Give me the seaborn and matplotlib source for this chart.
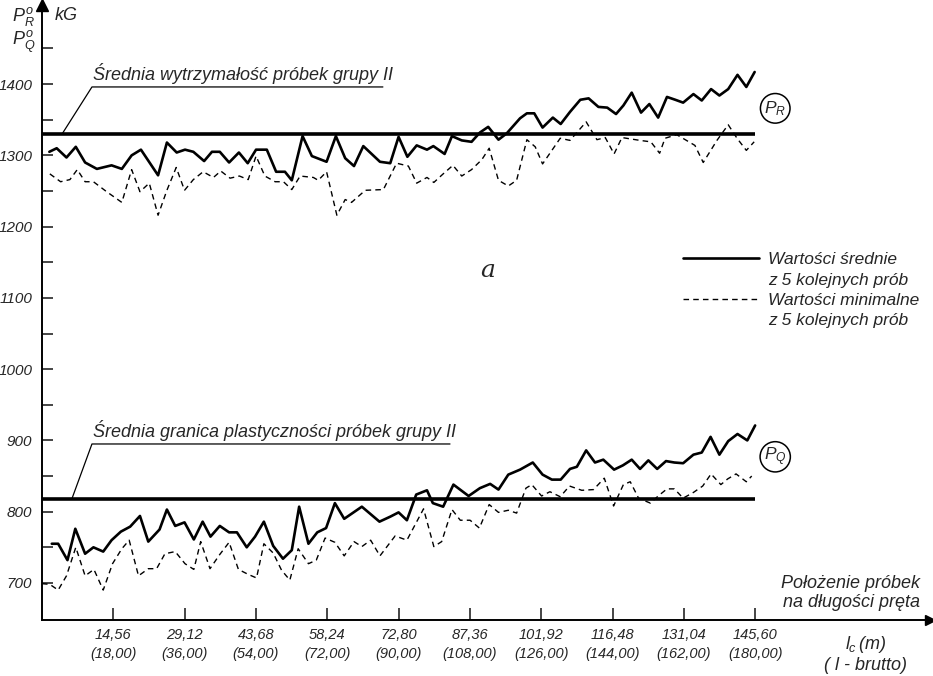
import matplotlib
matplotlib.use("Agg")
import matplotlib.pyplot as plt
from matplotlib import font_manager
from matplotlib.lines import Line2D
import seaborn as sns
import pandas as pd

# ---------------- data ----------------
# P_R : mean of 5 consecutive samples (solid)
r_mean_x = [1.5, 3.0, 5.0, 6.9, 8.8, 11.2, 14.2, 16.3, 18.3, 20.2, 23.7, 25.5, 27.5, 29.2, 30.9,
            33.1, 34.7, 36.3, 38.2, 40.2, 42.0, 43.7, 45.9, 47.8, 49.6, 51.0, 53.2, 55.1, 58.1,
            60.0, 61.9, 63.7, 65.6, 69.0, 71.1, 72.8, 74.6, 76.5, 78.6, 79.9, 82.2, 83.7, 85.7,
            87.7, 89.4, 91.1, 93.2, 94.9, 97.6, 99.0, 100.5, 102.2, 104.3, 105.9, 107.8, 109.9,
            111.6, 113.6, 115.4, 117.2, 118.7, 120.4, 122.3, 124.0, 125.8, 127.6, 129.3, 130.9,
            133.0, 134.7, 136.6, 138.3, 140.1, 142.0, 143.8, 145.5]
r_mean_y = [1305, 1310, 1297, 1312, 1290, 1281, 1286, 1281, 1300, 1308, 1272, 1318, 1304, 1308, 1305,
            1292, 1305, 1305, 1290, 1304, 1289, 1308, 1308, 1277, 1277, 1265, 1327, 1299, 1291,
            1327, 1296, 1285, 1313, 1291, 1289, 1326, 1298, 1314, 1308, 1313, 1302, 1327, 1321,
            1319, 1332, 1340, 1322, 1331, 1352, 1359, 1359, 1339, 1353, 1344, 1361, 1378,
            1380, 1368, 1367, 1358, 1370, 1388, 1360, 1372, 1353, 1382, 1378, 1374,
            1386, 1377, 1393, 1384, 1393, 1413, 1396, 1417]

# P_R : minimum of 5 consecutive samples (dashed)
r_min_x = [1.6, 3.8, 5.7, 7.2, 8.8, 10.5, 13.2, 16.3, 18.3, 20.0, 21.9, 23.7, 25.5, 27.4, 29.1,
           30.9, 32.9, 35.0, 36.5, 38.4, 40.3, 42.1, 43.7, 45.5, 47.6, 49.3, 51.0, 52.7, 55.4,
           56.4, 58.1, 60.2, 61.9, 63.2, 66.0, 69.7, 72.4, 74.8, 76.5, 78.6, 80.0, 81.9, 83.9,
           85.7, 87.7, 89.8, 91.3, 93.2, 95.2, 96.9, 99.0, 100.7, 102.2, 105.8, 107.8, 111.1,
           113.3, 115.0, 116.8, 118.4, 122.1, 124.3, 126.1, 127.2, 129.6, 133.3, 135.0, 137.8,
           140.1, 141.9, 143.8, 145.4]
r_min_y = [1274, 1263, 1266, 1280, 1263, 1263, 1249, 1234, 1280, 1249, 1261, 1216, 1251, 1283, 1251,
           1266, 1277, 1269, 1278, 1268, 1271, 1266, 1299, 1271, 1263, 1263, 1252, 1271, 1269,
           1265, 1277, 1216, 1238, 1234, 1251, 1252, 1289, 1285, 1261, 1269, 1262, 1274, 1286,
           1271, 1280, 1294, 1310, 1265, 1257, 1265, 1322, 1312, 1288, 1324, 1321, 1347,
           1322, 1325, 1302, 1325, 1321, 1319, 1303, 1324, 1329, 1314, 1290, 1321,
           1343, 1324, 1307, 1319]

# P_Q : mean of 5 consecutive samples (solid)
q_mean_x = [2.0, 3.3, 5.2, 6.8, 8.8, 10.5, 12.5, 14.2, 16.1, 18.0, 20.0, 21.7, 24.0, 25.5, 27.2,
            29.1, 31.0, 32.8, 34.4, 36.3, 38.2, 39.8, 41.8, 43.5, 45.3, 47.2, 49.2, 51.0, 52.5,
            54.4, 56.2, 58.0, 59.8, 61.7, 65.3, 68.9, 71.1, 72.8, 74.5, 76.4, 78.6, 79.8, 81.9,
            84.0, 87.1, 89.4, 91.5, 93.2, 95.2, 97.6, 100.2, 102.2, 104.1, 105.9, 107.8, 109.2,
            111.1, 112.9, 114.6, 116.8, 118.6, 120.4, 122.1, 123.8, 125.6, 127.4, 129.1, 130.9,
            133.0, 134.7, 136.5, 138.3, 140.1, 142.0, 144.0, 145.6]
q_mean_y = [755, 755, 732, 776, 741, 750, 744, 760, 772, 779, 794, 758, 775, 803, 780,
            785, 761, 786, 765, 780, 771, 771, 750, 765, 786, 752, 734, 746, 807,
            755, 771, 777, 812, 790, 807, 786, 793, 799, 788, 824, 830, 812, 807,
            838, 822, 833, 839, 831, 852, 859, 869, 852, 845, 845, 860, 863,
            886, 869, 873, 859, 865, 873, 860, 872, 860, 871, 869, 868,
            880, 883, 905, 880, 899, 909, 900, 921]

# P_Q : minimum of 5 consecutive samples (dashed)
q_min_x = [0.0, 1.6, 3.3, 5.0, 6.9, 8.8, 10.6, 12.5, 14.4, 16.3, 17.8, 19.7, 21.7, 23.4, 25.1,
           27.2, 29.2, 31.0, 32.4, 34.3, 36.3, 38.2, 40.1, 42.1, 43.8, 45.3, 47.2, 48.9, 50.6,
           52.3, 54.4, 56.0, 57.8, 59.8, 61.7, 63.7, 65.3, 67.1, 69.0, 72.1, 74.5, 77.9, 80.0,
           81.6, 83.7, 85.4, 87.4, 89.3, 91.3, 93.2, 95.2, 96.9, 98.8, 100.0, 102.0, 103.7,
           105.8, 107.7, 110.2, 112.6, 114.8, 116.7, 118.7, 120.1, 121.8, 124.2, 125.8, 127.6,
           129.1, 130.9, 133.0, 134.9, 136.6, 138.6, 140.0, 141.7, 143.8, 144.9]
q_min_y = [699, 698, 690, 710, 750, 710, 719, 690, 727, 748, 760, 710, 720, 720, 741,
           744, 727, 719, 758, 720, 740, 757, 719, 712, 707, 755, 742, 718, 704,
           748, 727, 732, 763, 757, 738, 758, 751, 760, 738, 766, 760, 804, 751,
           758, 803, 788, 788, 777, 810, 799, 802, 798, 833, 838, 822, 828,
           821, 836, 830, 831, 847, 808, 838, 842, 819, 812, 822, 832,
           832, 819, 827, 836, 853, 838, 846, 853, 842, 850]

# group averages (thick horizontal lines)
mean_levels = [1330, 818]
mean_span = [0.0, 145.6]

# ticks
y_ticks = [700, 800, 900, 1000, 1100, 1200, 1300, 1400]
y_minor = [750, 850, 950, 1050, 1150, 1250, 1350, 1450]
x_tick_m = ["14,56", "29,12", "43,68", "58,24", "72,80", "87,36", "101,92", "116,48", "131,04", "145,60"]
x_tick_brutto = ["(18,00)", "(36,00)", "(54,00)", "(72,00)", "(90,00)", "(108,00)", "(126,00)",
                 "(144,00)", "(162,00)", "(180,00)"]

title_R = "Średnia wytrzymałość próbek grupy II"
title_Q = "Średnia granica plastyczności próbek grupy II"
legend_labels = ["Wartości średnie", "z 5 kolejnych prób", "Wartości minimalne", "z 5 kolejnych prób"]

# ---------------- styling ----------------
sns.set_style("white")
available = {f.name for f in font_manager.fontManager.ttflist}
fam = [f for f in ["Liberation Sans Narrow", "DejaVu Sans Condensed", "Liberation Sans", "DejaVu Sans"]
       if f in available] + ["DejaVu Sans"]
plt.rcParams["font.family"] = fam
plt.rcParams["font.style"] = "italic"
plt.rcParams["mathtext.fontset"] = "custom"
plt.rcParams["mathtext.it"] = fam[0] + ":italic"
plt.rcParams["mathtext.rm"] = fam[0] + ":italic"

fig = plt.figure(figsize=(9.33, 6.76), dpi=100)
fig.patch.set_facecolor("white")
ax = fig.add_axes([42 / 933, 56 / 676, 888 / 933, 615 / 676])
ax.set_facecolor("white")

df = pd.concat([
    pd.DataFrame({"x": r_mean_x, "y": r_mean_y, "s": "r_mean"}),
    pd.DataFrame({"x": r_min_x, "y": r_min_y, "s": "r_min"}),
    pd.DataFrame({"x": q_mean_x, "y": q_mean_y, "s": "q_mean"}),
    pd.DataFrame({"x": q_min_x, "y": q_min_y, "s": "q_min"}),
])

solid_kw = dict(color="black", lw=1.9, estimator=None, sort=False)
dash_kw = dict(color="black", lw=1.0, estimator=None, sort=False, dashes=False)
sns.lineplot(data=df[df.s == "r_mean"], x="x", y="y", ax=ax, **solid_kw)
l_rmin = sns.lineplot(data=df[df.s == "r_min"], x="x", y="y", ax=ax, **dash_kw).lines[-1]
sns.lineplot(data=df[df.s == "q_mean"], x="x", y="y", ax=ax, **solid_kw)
l_qmin = sns.lineplot(data=df[df.s == "q_min"], x="x", y="y", ax=ax, **dash_kw).lines[-1]
for ln in (l_rmin, l_qmin):
    ln.set_dashes((4, 3))

for lvl in mean_levels:
    ax.hlines(lvl, mean_span[0], mean_span[1], color="black", lw=2.6)

ax.set_xlim(0, 181.3)
ax.set_ylim(648, 1511)
ax.set_xlabel("")
ax.set_ylabel("")

# spines
for s in ["top", "right"]:
    ax.spines[s].set_visible(False)
for s in ["left", "bottom"]:
    ax.spines[s].set_linewidth(1.4)
    ax.spines[s].set_color("black")
ax.plot(0, 1, marker="^", color="black", markersize=9, transform=ax.transAxes, clip_on=False)
ax.plot(1, 0, marker=">", color="black", markersize=7, transform=ax.transAxes, clip_on=False)

# ticks
ax.set_yticks(y_ticks)
ax.set_yticklabels([str(v) for v in y_ticks], fontsize=11, style="italic")
ax.set_yticks(y_minor, minor=True)
ax.tick_params(axis="y", which="both", direction="in", length=8, width=1.2, pad=7, left=True)
x_pos = [float(s.replace(",", ".")) for s in x_tick_m]
ax.set_xticks(x_pos)
ax.set_xticklabels([f"{a}\n{b}" for a, b in zip(x_tick_m, x_tick_brutto)],
                   fontsize=10.5, style="italic", linespacing=1.45)
ax.tick_params(axis="x", direction="in", length=9, width=1.2, pad=6, bottom=True)
ax.grid(False)

# annotations for the group averages
ax.plot([4.1, 10.2, 69.6], [mean_levels[0], 1396, 1396], color="black", lw=0.9)
ax.text(10.4, 1400, title_R, fontsize=13, style="italic", ha="left", va="bottom")
ax.plot([6.1, 10.2, 83.3], [mean_levels[1], 895, 895], color="black", lw=0.9)
ax.text(10.4, 899, title_Q, fontsize=13, style="italic", ha="left", va="bottom")

circ = dict(boxstyle="circle,pad=0.22", fc="white", ec="black", lw=1.1)
ax.text(149.7, 1366, r"$P_R$", fontsize=12.5, ha="center", va="center", bbox=circ)
ax.text(149.7, 877, r"$P_Q$", fontsize=12.5, ha="center", va="center", bbox=circ)

ax.text(91, 1139, "a", fontsize=18, family="DejaVu Serif", style="italic", ha="center", va="center")

# legend
h_solid = Line2D([], [], color="black", lw=1.9)
h_dash = Line2D([], [], color="black", lw=1.0, dashes=(4, 3))
h_none = Line2D([], [], linestyle="none")
leg = ax.legend([h_solid, h_none, h_dash, h_none], legend_labels, frameon=False,
                loc="upper left", bbox_to_anchor=((683 - 42) / 888, (620 - 252) / 615),
                fontsize=12.5, handlelength=4.4, handletextpad=0.5, labelspacing=0.3,
                borderaxespad=0, borderpad=0)
for t in leg.get_texts():
    t.set_style("italic")

# axis titles
fig.text(12 / 933, 1 - 16 / 676, r"$P^o_R$", fontsize=13, ha="left", va="center")
fig.text(55 / 933, 1 - 16 / 676, "kG", fontsize=13, style="italic", ha="left", va="center")
fig.text(12 / 933, 1 - 42 / 676, r"$P^o_Q$", fontsize=13, ha="left", va="center")
fig.text(920 / 933, 1 - 593 / 676, "Położenie próbek\nna długości pręta", fontsize=13,
         style="italic", ha="right", va="center", linespacing=1.15)
fig.text(866 / 933, 1 - 654 / 676, r"$l_c\,(m)$" + "\n" + "( l - brutto)", fontsize=13,
         style="italic", ha="center", va="center", linespacing=1.15)

fig.savefig("out.png", dpi=100, facecolor="white")
